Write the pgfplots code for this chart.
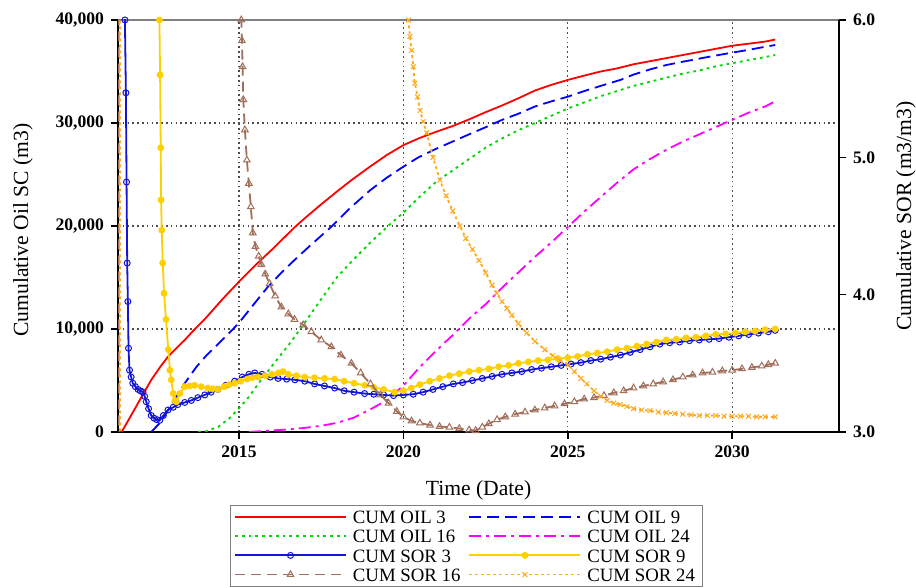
\documentclass[border=0pt]{standalone}
\usepackage{fontspec}
\setmainfont{Liberation Serif}
\usepackage{pgfplots}
\pgfplotsset{compat=1.18}
\definecolor{cred}{RGB}{255,0,0}
\definecolor{cblue}{RGB}{0,0,255}
\definecolor{cgreen}{RGB}{0,215,0}
\definecolor{cmag}{RGB}{255,0,255}
\definecolor{csor}{RGB}{20,20,215}
\definecolor{cgold}{RGB}{255,208,0}
\definecolor{cbrown}{RGB}{160,110,90}
\definecolor{corange}{RGB}{255,170,30}
\pgfplotsset{
  mycommon/.style={
    scale only axis, width=360.5pt, height=206pt,
    xmin=2011.32, xmax=2033.25,
    at={(59pt,78pt)}, anchor=south west,
    clip mode=individual,
    tick align=outside, major tick length=3.5pt,
    tick style={black, line width=0.8pt},
    axis line style={black, line width=1pt, -},
    /pgf/number format/assume math mode=true,
    ticklabel style={font=\bfseries\fontsize{8.8}{8.8}\selectfont},
    scaled y ticks=false,
  },
  oil3/.style={cred, line width=0.9pt},
  oil9/.style={cblue, line width=0.9pt, dash pattern=on 6pt off 3pt},
  oil16/.style={cgreen, line width=0.9pt, dash pattern=on 1.4pt off 2pt},
  oil24/.style={cmag, line width=0.9pt, dash pattern=on 6pt off 2.5pt on 1.5pt off 2.5pt},
  sor3/.style={csor, line width=0.9pt, mark=o, mark size=1.5pt, mark options={solid, fill=white, line width=0.5pt}},
  sor9/.style={cgold, line width=0.9pt, mark=*, mark size=1.25pt, mark options={solid}},
  sor16/.style={cbrown, line width=0.9pt, dash pattern=on 5pt off 3pt, mark=triangle, mark size=1.9pt, mark options={solid, fill=white, line width=0.5pt}},
  sor24/.style={corange, line width=0.9pt, dash pattern=on 1.5pt off 1.5pt, mark=x, mark size=1.7pt, mark options={solid, line width=0.5pt}},
}
\begin{document}
\begin{tikzpicture}
\useasboundingbox (0,0) rectangle (458pt,294pt);
\begin{axis}[mycommon,
  ymin=0, ymax=40000,
  axis x line*=bottom, axis y line*=left,
  xtick={2015,2020,2025,2030},
  ytick={0,10000,20000,30000,40000},
  grid=major,
  major grid style={dash pattern=on 0.8pt off 1.6pt, black!70, line width=0.6pt},
  xticklabel style={/pgf/number format/1000 sep={}},
  yticklabel style={/pgf/number format/.cd, fixed, 1000 sep={,}},
  every axis x label/.style={at={(axis description cs:0.5,0)}, yshift=-29pt, anchor=center},
  every axis y label/.style={at={(axis description cs:0,0.49)}, xshift=-47.5pt, rotate=90, anchor=center},
  label style={font=\fontsize{10.8}{10.8}\selectfont},
  xlabel={Time (Date)},
  ylabel={Cumulative Oil SC (m3)},
]
\addplot[oil3] coordinates {(2011.43,0)(2011.7,1500)(2012.0,3200)(2012.33,5050)(2012.6,6300)(2012.84,7310)(2013.1,8150)(2013.35,8930)(2013.6,9800)(2014.0,11100)(2014.5,12900)(2015.0,14590)(2015.5,16200)(2016.0,17700)(2016.69,19870)(2017.0,20750)(2017.5,22100)(2018.0,23400)(2018.42,24450)(2019.0,25800)(2019.5,26900)(2020.0,27850)(2020.5,28550)(2021.0,29150)(2021.5,29700)(2022.0,30350)(2022.5,31050)(2023.0,31700)(2023.5,32400)(2024.0,33150)(2024.5,33700)(2025.0,34180)(2025.5,34600)(2026.0,35000)(2026.5,35300)(2027.0,35700)(2027.5,36000)(2028.0,36300)(2028.5,36600)(2029.0,36900)(2029.5,37200)(2030.0,37500)(2030.5,37700)(2031.0,37900)(2031.31,38100)};
\addplot[oil9] coordinates {(2012.33,0)(2012.6,900)(2013.0,2900)(2013.35,4730)(2013.7,6300)(2014.0,7400)(2014.67,9500)(2015.0,10600)(2015.5,12600)(2015.88,14100)(2016.3,15500)(2016.69,16700)(2017.2,18200)(2017.81,19930)(2018.4,21800)(2019.0,23500)(2019.5,24700)(2020.0,25760)(2020.45,26650)(2021.0,27500)(2021.5,28200)(2022.0,28900)(2022.54,29640)(2023.0,30300)(2023.5,30900)(2024.0,31600)(2024.5,32100)(2025.0,32550)(2025.5,33100)(2026.0,33600)(2026.6,34180)(2027.0,34700)(2027.5,35200)(2028.0,35630)(2028.5,35950)(2029.0,36250)(2029.5,36550)(2030.0,36830)(2030.5,37100)(2031.0,37400)(2031.31,37570)};
\addplot[oil16] coordinates {(2013.76,0)(2014.0,80)(2014.37,500)(2014.7,1300)(2015.0,2300)(2015.3,3400)(2015.59,4700)(2016.0,6400)(2016.5,8400)(2017.0,10600)(2017.5,12900)(2018.0,15100)(2018.5,16800)(2019.0,18400)(2019.5,19900)(2020.0,21300)(2020.45,22700)(2021.0,24300)(2021.5,25400)(2022.0,26500)(2022.5,27600)(2023.0,28500)(2023.5,29300)(2024.0,30000)(2024.5,30700)(2025.0,31400)(2025.5,32000)(2026.0,32600)(2026.5,33100)(2027.0,33600)(2027.5,34000)(2028.0,34400)(2028.5,34800)(2029.0,35100)(2029.5,35500)(2030.0,35800)(2030.5,36100)(2031.0,36400)(2031.31,36600)};
\addplot[oil24] coordinates {(2015.3,0)(2016.0,150)(2016.5,250)(2017.0,400)(2017.5,600)(2018.0,900)(2018.5,1400)(2019.0,2200)(2019.5,3100)(2020.0,4500)(2020.5,6300)(2021.0,7900)(2021.5,9400)(2022.0,11000)(2022.5,12400)(2023.0,14000)(2023.5,15500)(2024.0,17000)(2024.5,18400)(2025.0,19900)(2025.5,21400)(2026.0,22800)(2026.5,24200)(2027.0,25500)(2027.5,26500)(2028.0,27400)(2028.5,28200)(2029.0,28900)(2029.5,29600)(2030.0,30300)(2030.5,31000)(2031.0,31600)(2031.31,32100)};
\draw[gray, line width=0.8pt] (rel axis cs:0,1) -- (rel axis cs:1,1);
\end{axis}
\begin{axis}[mycommon,
  ymin=3, ymax=6,
  axis y line*=right, axis x line=none,
  ytick={3,4,5,6},
  yticklabel style={/pgf/number format/.cd, fixed, fixed zerofill, precision=1},
  every axis y label/.style={at={(axis description cs:1,0.524)}, xshift=33.5pt, rotate=90, anchor=center},
  label style={font=\fontsize{10.8}{10.8}\selectfont},
  ylabel={Cumulative SOR (m3/m3)},
  legend columns=2,
  legend cell align=left,
  legend image code/.code={\draw[mark repeat=2,mark phase=2,#1] plot coordinates {(0pt,0pt) (27.75pt,0pt) (55.5pt,0pt)};},
  legend style={at={(0.4827,-0.1772)}, anchor=north, draw=gray, fill=white,
    font=\fontsize{9.4}{9.4}\selectfont, inner xsep=2pt, inner ysep=1pt,
    nodes={inner sep=1.5pt, text depth=0pt, text height=6.6pt},
    /tikz/every odd column/.append style={column sep=1.5pt},
    /tikz/every even column/.append style={column sep=2.5pt}},
]
\addlegendimage{oil3}
\addlegendentry{CUM OIL 3}
\addlegendimage{oil9}
\addlegendentry{CUM OIL 9}
\addlegendimage{oil16}
\addlegendentry{CUM OIL 16}
\addlegendimage{oil24}
\addlegendentry{CUM OIL 24}
\addplot[sor3] coordinates {(2011.48,9.0)(2011.53,6.0)(2011.56,5.47)(2011.58,4.82)(2011.60,4.23)(2011.62,3.95)(2011.64,3.61)(2011.67,3.45)(2011.72,3.40)(2011.77,3.355)(2011.85,3.33)(2011.93,3.31)(2012.0,3.30)(2012.08,3.29)(2012.13,3.26)(2012.18,3.22)(2012.25,3.17)(2012.33,3.12)(2012.42,3.10)(2012.5,3.09)(2012.59,3.085)(2012.7,3.12)(2012.84,3.16)(2013.0,3.18)(2013.14,3.20)(2013.35,3.215)(2013.55,3.23)(2013.75,3.25)(2013.96,3.27)(2014.15,3.29)(2014.36,3.31)(2014.6,3.34)(2014.87,3.37)(2015.1,3.40)(2015.3,3.42)(2015.48,3.43)(2015.7,3.42)(2015.95,3.40)(2016.19,3.39)(2016.45,3.385)(2016.7,3.38)(2017.0,3.37)(2017.3,3.35)(2017.6,3.335)(2017.91,3.32)(2018.2,3.30)(2018.5,3.29)(2018.82,3.28)(2019.1,3.275)(2019.4,3.27)(2019.7,3.265)(2020.0,3.27)(2020.3,3.275)(2020.6,3.29)(2020.9,3.31)(2021.2,3.33)(2021.52,3.35)(2021.8,3.36)(2022.1,3.375)(2022.4,3.39)(2022.7,3.405)(2023.0,3.42)(2023.3,3.43)(2023.6,3.44)(2023.9,3.455)(2024.2,3.465)(2024.5,3.475)(2024.8,3.485)(2025.1,3.495)(2025.4,3.505)(2025.7,3.52)(2026.0,3.53)(2026.3,3.545)(2026.6,3.56)(2026.9,3.58)(2027.2,3.60)(2027.5,3.62)(2027.8,3.64)(2028.1,3.65)(2028.4,3.655)(2028.7,3.665)(2029.0,3.67)(2029.3,3.675)(2029.6,3.68)(2029.9,3.69)(2030.2,3.70)(2030.5,3.71)(2030.8,3.72)(2031.1,3.73)(2031.31,3.74)};
\addlegendentry{CUM SOR 3}
\addplot[sor9] coordinates {(2012.50,9.0)(2012.58,6.0)(2012.60,5.60)(2012.62,5.07)(2012.63,4.69)(2012.65,4.47)(2012.68,4.23)(2012.72,4.01)(2012.78,3.82)(2012.85,3.60)(2012.90,3.45)(2012.94,3.38)(2013.0,3.28)(2013.05,3.23)(2013.1,3.22)(2013.2,3.28)(2013.35,3.33)(2013.5,3.335)(2013.65,3.34)(2013.85,3.33)(2014.05,3.32)(2014.2,3.315)(2014.36,3.31)(2014.55,3.33)(2014.7,3.345)(2014.87,3.355)(2015.05,3.37)(2015.25,3.385)(2015.4,3.395)(2015.58,3.40)(2015.8,3.41)(2016.0,3.42)(2016.2,3.43)(2016.34,3.44)(2016.5,3.42)(2016.75,3.41)(2017.0,3.40)(2017.3,3.395)(2017.6,3.39)(2017.91,3.385)(2018.2,3.37)(2018.5,3.355)(2018.82,3.34)(2019.1,3.325)(2019.4,3.31)(2019.73,3.29)(2020.0,3.30)(2020.24,3.32)(2020.5,3.345)(2020.8,3.37)(2021.1,3.39)(2021.4,3.41)(2021.7,3.425)(2022.0,3.44)(2022.3,3.45)(2022.6,3.46)(2022.9,3.475)(2023.2,3.485)(2023.5,3.50)(2023.8,3.51)(2024.1,3.52)(2024.4,3.525)(2024.7,3.535)(2025.0,3.54)(2025.3,3.55)(2025.6,3.565)(2025.9,3.575)(2026.2,3.585)(2026.5,3.60)(2026.8,3.61)(2027.1,3.625)(2027.4,3.64)(2027.7,3.655)(2028.0,3.67)(2028.3,3.675)(2028.6,3.685)(2028.9,3.69)(2029.2,3.70)(2029.5,3.71)(2029.8,3.715)(2030.1,3.72)(2030.4,3.73)(2030.7,3.735)(2031.0,3.745)(2031.31,3.75)};
\addlegendentry{CUM SOR 9}
\addplot[sor16] coordinates {(2011.34,2.0)(2011.36,20)(2015.00,20)(2015.07,6.0)(2015.09,5.85)(2015.11,5.66)(2015.13,5.42)(2015.18,5.20)(2015.24,4.98)(2015.3,4.81)(2015.36,4.64)(2015.42,4.45)(2015.5,4.35)(2015.6,4.28)(2015.68,4.22)(2015.8,4.15)(2015.93,4.08)(2016.1,3.99)(2016.29,3.91)(2016.5,3.86)(2016.69,3.82)(2016.95,3.78)(2017.2,3.73)(2017.5,3.67)(2017.81,3.62)(2018.1,3.56)(2018.42,3.50)(2018.7,3.43)(2019.0,3.35)(2019.3,3.27)(2019.55,3.21)(2019.8,3.15)(2020.0,3.11)(2020.25,3.08)(2020.5,3.065)(2020.81,3.05)(2021.1,3.04)(2021.4,3.035)(2021.7,3.025)(2022.0,3.015)(2022.2,3.01)(2022.4,3.035)(2022.6,3.06)(2022.85,3.09)(2023.1,3.11)(2023.4,3.13)(2023.7,3.145)(2024.0,3.16)(2024.3,3.175)(2024.6,3.19)(2024.9,3.205)(2025.2,3.22)(2025.5,3.24)(2025.8,3.25)(2026.1,3.265)(2026.4,3.285)(2026.7,3.30)(2027.0,3.32)(2027.3,3.335)(2027.6,3.35)(2027.9,3.365)(2028.2,3.38)(2028.5,3.40)(2028.8,3.415)(2029.1,3.43)(2029.4,3.435)(2029.7,3.445)(2030.0,3.45)(2030.3,3.46)(2030.6,3.47)(2030.9,3.48)(2031.1,3.49)(2031.31,3.50)};
\addlegendentry{CUM SOR 16}
\addplot[sor24] coordinates {(2011.38,2.0)(2011.40,20)(2020.10,20)(2020.15,6.0)(2020.2,5.88)(2020.25,5.78)(2020.3,5.66)(2020.35,5.54)(2020.43,5.44)(2020.51,5.34)(2020.6,5.26)(2020.71,5.18)(2020.9,5.00)(2021.11,4.835)(2021.3,4.72)(2021.5,4.61)(2021.72,4.50)(2021.9,4.41)(2022.1,4.33)(2022.3,4.25)(2022.5,4.16)(2022.7,4.07)(2022.84,4.01)(2023.0,3.95)(2023.15,3.90)(2023.3,3.85)(2023.5,3.79)(2023.75,3.72)(2024.0,3.66)(2024.3,3.60)(2024.55,3.555)(2024.77,3.52)(2025.02,3.49)(2025.2,3.44)(2025.4,3.39)(2025.58,3.35)(2025.8,3.30)(2026.0,3.26)(2026.2,3.23)(2026.4,3.21)(2026.59,3.20)(2026.8,3.185)(2027.0,3.17)(2027.25,3.16)(2027.5,3.155)(2027.75,3.145)(2028.0,3.14)(2028.25,3.135)(2028.5,3.13)(2028.75,3.125)(2029.0,3.12)(2029.25,3.12)(2029.5,3.12)(2029.75,3.115)(2030.0,3.115)(2030.25,3.115)(2030.5,3.115)(2030.75,3.11)(2031.0,3.11)(2031.31,3.11)};
\addlegendentry{CUM SOR 24}
\end{axis}
\end{tikzpicture}
\end{document}
